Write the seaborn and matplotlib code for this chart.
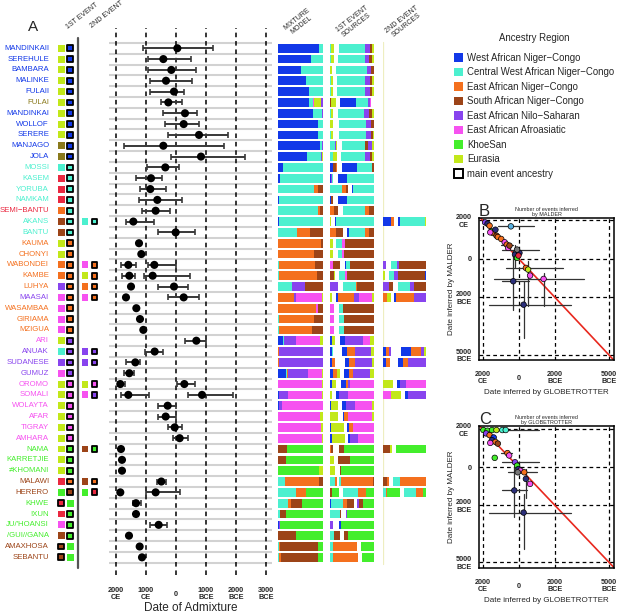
import matplotlib
matplotlib.use("Agg")
import matplotlib.pyplot as plt
from matplotlib.patches import Patch
import numpy as np
import pandas as pd
import seaborn as sns

sns.set_style("white")
plt.rcParams["font.family"] = ["Liberation Sans", "DejaVu Sans"]

# ---- ancestry palette ----
region_codes = ["W", "C", "E", "S", "N", "A", "K", "U"]
region_names = ["West African Niger\u2212Congo", "Central West African Niger\u2212Congo",
                "East African Niger\u2212Congo", "South African Niger\u2212Congo",
                "East African Nilo\u2212Saharan", "East African Afroasiatic", "KhoeSan", "Eurasia"]
region_colors = ["#1238e8", "#4cf0cf", "#f4701e", "#9c4418", "#8844ee", "#f652f0", "#44ee2c", "#c2e81a"]
pal = dict(zip(region_codes, region_colors))
pal.update({"R": "#ea2840", "O": "#8a7a1c", "V": "#2b2f7a", "L": "#58b0e0", "G": "#777777"})

# ---- panel A data ----
populations = ["MANDINKAII", "SEREHULE", "BAMBARA", "MALINKE", "FULAII", "FULAI", "MANDINKAI",
               "WOLLOF", "SERERE", "MANJAGO", "JOLA", "MOSSI", "KASEM", "YORUBA", "NAMKAM",
               "SEMI\u2212BANTU", "AKANS", "BANTU", "KAUMA", "CHONYI", "WABONDEI", "KAMBE", "LUHYA",
               "MAASAI", "WASAMBAA", "GIRIAMA", "MZIGUA", "ARI", "ANUAK", "SUDANESE", "GUMUZ",
               "OROMO", "SOMALI", "WOLAYTA", "AFAR", "TIGRAY", "AMHARA", "NAMA", "KARRETJIE",
               "\u2260KHOMANI", "MALAWI", "HERERO", "KHWE", "!XUN", "JU/'HOANSI", "/GUI//GANA",
               "AMAXHOSA", "SEBANTU"]
pop_codes = ("W W W W W O W W W W W C C C C R C C E E E E E N E E E A N N N "
             "A A A A A A K K K S S K K K K S S").split()

first_event = ["UW"] * 9 + ["OW", "OW", "CC", "RC", "RC", "RC", "EC", "SC", "SC", "UE", "UE",
               "EE", "EE", "NE", "AE", "AE", "AE", "AE", "UN", "CN", "NN", "AN", "UA", "UA",
               "UA", "UA", "UA", "UA", "UK", "UK", "UK", "RE", "KS", "RK", "RK", "AK", "SK",
               "SK", "SK"]
first_main = [1] * 42 + [0, 1, 1, 1, 0, 0]
second_event = {"AKANS": "CC", "WABONDEI": "AE", "KAMBE": "UE", "LUHYA": "EE", "MAASAI": "AE",
                "ANUAK": "NN", "SUDANESE": "NN", "OROMO": "UA", "SOMALI": "AN", "NAMA": "SK",
                "MALAWI": "SE", "HERERO": "KR"}

# admixture dates (positive = BCE), with confidence limits
event_pop = ["MANDINKAII", "SEREHULE", "BAMBARA", "MALINKE", "FULAII", "FULAI", "MANDINKAI",
             "WOLLOF", "SERERE", "MANJAGO", "JOLA", "MOSSI", "KASEM", "YORUBA", "NAMKAM",
             "SEMI\u2212BANTU", "AKANS", "BANTU", "KAUMA", "CHONYI", "WABONDEI", "WABONDEI",
             "KAMBE", "KAMBE", "LUHYA", "LUHYA", "MAASAI", "MAASAI", "WASAMBAA", "GIRIAMA",
             "MZIGUA", "ARI", "ANUAK", "SUDANESE", "GUMUZ", "OROMO", "OROMO", "SOMALI", "SOMALI",
             "WOLAYTA", "AFAR", "TIGRAY", "AMHARA", "NAMA", "KARRETJIE", "\u2260KHOMANI", "MALAWI",
             "HERERO", "HERERO", "KHWE", "!XUN", "JU/'HOANSI", "/GUI//GANA", "AMAXHOSA", "SEBANTU"]
event_date = [45, -422, -156, -333, -67, -256, 300, 256, 767, -422, 833, -356, -833, -856, -622,
              -678, -1422, -11, -1233, -1156, -1589, -722, -1556, -778, -1500, -67, -1667, 256,
              -1322, -1200, -1089, 678, -711, -1356, -1556, -1856, 278, -1589, 867, -278, -344,
              -44, 122, -1833, -1800, -1800, -489, -1856, -678, -1333, -1333, -578, -1567, -1211,
              -1133]
event_lo = [-1090, -922, -922, -878, -878, -500, -422, -356, -256, -1733, -178, -956, -1333, -1189,
            -1222, -1133, -1678, -611, -1233, -1156, -1844, -944, -1789, -1056, -1500, -611, -1667,
            -256, -1322, -1200, -1089, 289, -1044, -1678, -1744, -1944, 44, -1822, 389, -611, -600,
            -256, -100, -1833, -1800, -1800, -633, -1856, -1000, -1422, -1333, -856, -1567, -1211,
            -1180]
event_hi = [1245, 511, 667, 544, 267, 200, 711, 778, 1745, 1600, 2289, 89, -478, -344, 189, -189,
            -722, 622, -1233, -1156, -1333, 0, -1378, 467, -1500, 411, -1667, 767, -1322, -1200,
            -1089, 989, -433, -1211, -1400, -1700, 622, -889, 1911, 0, 0, 189, 389, -1833, -1800,
            -1800, -333, -1856, 122, -1156, -1333, -300, -1567, -1211, -1090]

# stacked composition bars: region code + relative width ("_" = gap)
mixture_model = [
    "W92 C8", "W74 C26", "W50 C50", "W62 C38", "W68 C32", "W69 C8 A4 U15 N4", "W77 C21 N2",
    "W90 C10", "W90 C10", "W93 C5 N2", "W65 C30 N3 U2", "W11 C89", "W4 C96", "C80 E8 S12",
    "W2 C98", "C90 E4 S6", "W2 C98", "C43 E29 S28", "E95 S5", "E81 S19", "C2 E80 S18",
    "C2 E84 S14", "C30 E2 N27 S41", "E36 N3 A58 U3", "E85 A4 S11", "C2 E78 S20", "C3 E72 S25",
    "W11 C2 N28 A53 U6", "E3 N97", "E3 N97", "W17 C2 E4 N44 A30 U3", "A98 U2", "W2 N20 A76 U2",
    "W3 N6 A90 U1", "A93 U7", "A96 U4", "A97 U3", "S19 K81", "S18 K82", "K92 U8", "C15 E77 S8",
    "C41 E21 K38", "C22 E6 S25 K47", "C5 S12 K83", "W3 N2 K95", "S39 K61", "C2 E3 S84 K11",
    "C2 E4 S84 K10"]
first_sources = [
    "C2 U10 _14 C78 N15 S7 U6", "C2 U10 _12 C82 N12 S8 U6", "U6 _12 C94 N12 S8",
    "C2 U8 _12 C82 N15 S7 U6", "C2 U8 _12 C82 N15 S7 U6", "S3 U14 _14 W48 C35 N5 A5 _8",
    "C2 U8 _15 C78 N15 S8 U6", "U8 _18 C83 N15 S8", "C2 U8 _18 C80 N14 S6 U4",
    "C15 N3 U3 _14 C70 S8 N12 U7", "C8 U12 _12 C72 N16 S6 U6", "W9 S10 E3 _13 W47 C45 S5",
    "W4 N2 C3 _14 W27 C82", "C37 E10 S8 _12 W3 C62", "W4 S5 _15 W25 C78",
    "E12 S10 _15 C65 E12 S15", "U3 _12 W4 C112", "E17 S20 _13 W5 C47 E12 S15",
    "U9 _10 C18 A8 S87", "U9 _14 C12 A6 S91", "A10 S20 _14 W3 C14 S71", "S11 U5 _12 C17 A5 S82",
    "N24 _14 C40 E4 S50", "U5 _12 W7 E45 N16 A37 U7", "A13 _14 C12 S91", "A12 _16 C14 S90",
    "A12 _15 C14 S91", "W5 U11 _15 W14 N54 A20 U13", "W7 C3 _25 W15 E25 N47 U10",
    "W6 E8 _31 W11 E18 N53 U5", "W9 E13 U7 _12 W16 E12 N50 U13", "W6 U12 _14 W17 E6 N4 A73",
    "U5 _14 W7 N28 A78", "W3 U21 _13 W12 N25 A53 U5", "U24 _15 W4 E12 A72 U5",
    "W4 U37 _11 W5 E12 A63", "W5 U39 _10 W5 N25 A48", "E4 S5 _17 S15 K91", "U11 _13 S35 K73",
    "U16 _13 S5 K98", "C16 E5 _5 C6 E97 S3", "S5 K22 _12 C43 E23 K25",
    "W4 C35 E13 S19 _11 N5 S12 K33", "C29 S5 _13 N5 K80", "N9 _17 W8 K98",
    "C12 S17 _12 S13 K78", "C9 E72 _13 K38", "C9 E75 _13 K35"]
second_sources = {
    "AKANS": "W8 E3 _4 W2 C25 U1", "WABONDEI": "N3 _5 C6 N2 S27", "KAMBE": "U2 _4 C5 N4 S27 W1",
    "LUHYA": "N6 S4 _5 C12 N4 S12", "MAASAI": "E4 U4 _3 W2 E18 N12",
    "ANUAK": "W3 E3 N2 _10 W10 E10 N3 U2", "SUDANESE": "W3 E4 _8 W5 E4 N18",
    "OROMO": "U10 _4 W3 N6 A20", "SOMALI": "A8 U10 _4 W3 N18", "NAMA": "S7 U2 _4 K30",
    "MALAWI": "S4 E2 _4 C7 E26", "HERERO": "C3 E1 K13 _4 C12 E7 K3"}

year_ticks = [-2000, -1000, 0, 1000, 2000, 3000]
year_labels = ["2000\nCE", "1000\nCE", "0", "1000\nBCE", "2000\nBCE", "3000\nBCE"]

# ---- panels B / C data (GLOBETROTTER vs MALDER dates, positive = BCE) ----
b_glob = [-1867, -1733, -1619, -1524, -1429, -1295, -1238, -1162, -1581, -971, -781, -438, -667,
          -590, -514, -210, -95, 36, -19, 393, 518, 625, 1375, -305, 268, -95]
b_mald = [-1897, -1828, -1724, -1431, -1345, -1517, -1207, -1138, -1379, -1034, -862, -1690, -741,
          -569, -690, -224, -52, -310, -172, 470, 557, 870, 1043, 1165, 2383, -483]
b_col = ["N", "V", "E", "K", "E", "V", "S", "E", "A", "E", "A", "L", "E", "A", "S", "V", "K", "V",
         "R", "E", "U", "A", "A", "V", "V", "G"]
b_glob_err = {11: (-1160, 840), 12: (-1000, -300), 19: (-724, 2446), 22: (-1390, 3607),
              23: (-914, 571), 24: (-1676, 2893), 25: (-914, 1107)}
b_mald_err = {15: (-700, 400), 20: (122, 2470), 22: (730, 2470), 23: (-483, 2643), 24: (1165, 4122)}

c_glob = [-1962, -1733, -1486, -1238, -914, -724, -1810, -1619, -1390, -1486, -1295, -1162, -1581,
          -1333, -629, -533, -210, -95, -19, 89, 304, 393, 625, -248, 268, -57]
c_mald = [-1964, -1929, -1964, -1964, -1964, -1964, -1786, -1696, -1571, -1429, -1339, -1250, -1286,
          -500, -750, -625, -268, -89, 87, 174, 261, 609, 870, 1217, 2383, 261]
c_col = ["K", "K", "K", "U", "C", "C", "N", "E", "W", "V", "E", "S", "A", "K", "E", "A", "N", "K",
         "V", "A", "E", "V", "A", "V", "V", "G"]
c_glob_err = {5: (-1962, 1107), 14: (-1000, -400), 16: (-914, 1107), 23: (-914, 482),
              24: (-1676, 2893), 25: (-600, 1000)}
c_mald_err = {21: (87, 1600), 23: (0, 2600), 24: (1400, 4300)}

pb_ticks = [-2000, 0, 2000, 5000]
pb_labels = ["2000\nCE", "0", "2000\nBCE", "5000\nBCE"]

# ---------------------------------------------------------------------------
W_PX, H_PX = 617, 613
fig = plt.figure(figsize=(6.17, 6.13), dpi=100)


def box(x0, y0, x1, y1):
    return [x0 / W_PX, 1 - y1 / H_PX, (x1 - x0) / W_PX, (y1 - y0) / H_PX]


row_lim = (48.63, -1.87)
n_rows = len(populations)


def parse(s):
    return [(t[0], float(t[1:])) for t in s.split()]


def stacked(ax, row, spec):
    parts = parse(spec)
    total = sum(w for _, w in parts)
    left = 0.0
    for code, w in parts:
        if code != "_":
            ax.barh(row, w / total, left=left, height=0.8, color=pal[code], linewidth=0)
        left += w / total


def bare(ax):
    ax.set_ylim(*row_lim)
    ax.set_xticks([])
    ax.set_yticks([])
    for s in ax.spines.values():
        s.set_visible(False)
    ax.patch.set_alpha(0)


def date_labels(ax, ticks, labels, y, fs):
    for t, l in zip(ticks, labels):
        ax.text(t, y, l, transform=ax.get_xaxis_transform(), ha="center", va="center",
                fontsize=fs, fontweight="bold", linespacing=1.05)


# labels + event squares
ax_lab = fig.add_axes(box(0, 28, 108, 575))
ax_lab.set_xlim(0, 108)
bare(ax_lab)
for i, (name, c) in enumerate(zip(populations, pop_codes)):
    ax_lab.text(49, i, name, ha="right", va="center", fontsize=5.6, color=pal[c])

sq = []
for i, (pair, m) in enumerate(zip(first_event, first_main)):
    for k in range(2):
        sq.append((61.3 + 9 * k, i, pal[pair[k]], k == m))
for name, pair in second_event.items():
    i = populations.index(name)
    for k in range(2):
        sq.append((85 + 9.5 * k, i, pal[pair[k]], k == 1))
sq = pd.DataFrame(sq, columns=["x", "row", "color", "main"])
ax_lab.scatter(sq["x"], sq["row"], marker="s", c=sq["color"],
               s=np.where(sq["main"], 17, 25),
               edgecolors=np.where(sq["main"], "black", "none"),
               linewidths=np.where(sq["main"], 1.3, 0), zorder=3)
ax_lab.axvline(77.5, ymin=0.013, ymax=0.982, color="#555555", lw=1.6)
fig.text(33 / W_PX, 1 - 27 / H_PX, "A", fontsize=11, ha="center", va="center")
fig.text(82 / W_PX, 1 - 16 / H_PX, "1ST EVENT", fontsize=5, rotation=38, ha="center", va="center")
fig.text(107 / W_PX, 1 - 15 / H_PX, "2ND EVENT", fontsize=5, rotation=38, ha="center", va="center")

# dot plot of admixture dates
ax_dot = fig.add_axes(box(109, 28, 272, 575))
ax_dot.set_xlim(-2233, 3200)
ax_dot.hlines(np.arange(-0.5, n_rows), -2233, 3200, color="#d2d2d2", lw=1.5, zorder=1)
for t in year_ticks:
    ax_dot.axvline(t, color="black", ls=(0, (3, 2.5)), lw=1.1, zorder=1)
ev = pd.DataFrame({"pop": event_pop, "date": event_date, "lo": event_lo, "hi": event_hi})
ev["row"] = ev["pop"].map({p: i for i, p in enumerate(populations)})
with_err = ev[ev["hi"] > ev["lo"] + 60]
ax_dot.errorbar(with_err["date"], with_err["row"],
                xerr=[with_err["date"] - with_err["lo"], with_err["hi"] - with_err["date"]],
                fmt="none", ecolor="#383838", elinewidth=1.4, capsize=2, capthick=1.2, zorder=2)
sns.scatterplot(data=ev, x="date", y="row", ax=ax_dot, color="black", s=34, edgecolor="none",
                zorder=3, legend=False)
ax_dot.set_xlabel("")
ax_dot.set_ylabel("")
bare(ax_dot)
date_labels(ax_dot, year_ticks, year_labels, -0.035, 5.3)
ax_dot.text(0.5, -0.061, "Date of Admixture", transform=ax_dot.transAxes, ha="center",
            va="center", fontsize=8.5)

# composition bars
ax_mix = fig.add_axes(box(278, 28, 323, 575))
ax_s1 = fig.add_axes(box(330, 28, 374, 575))
ax_s2 = fig.add_axes(box(383, 28, 426, 575))
for ax in (ax_mix, ax_s1, ax_s2):
    ax.set_xlim(0, 1)
for i, s in enumerate(mixture_model):
    stacked(ax_mix, i, s)
for i, s in enumerate(first_sources):
    stacked(ax_s1, i, s)
for name, s in second_sources.items():
    stacked(ax_s2, populations.index(name), s)
ax_s2.axvline(0, ymin=0.02, ymax=0.975, color="#eeeec0", lw=0.9, zorder=0)
for ax in (ax_mix, ax_s1, ax_s2):
    bare(ax)
for x, y, t in [(299, 22, "MIXTURE\nMODEL"), (354, 22, "1ST EVENT\nSOURCES"),
                (404, 22, "2ND EVENT\nSOURCES")]:
    fig.text(x / W_PX, 1 - y / H_PX, t, fontsize=5, rotation=38, ha="center", va="center",
             ma="center", linespacing=1.0)

# legend
handles = [Patch(facecolor=c, edgecolor="none", label=n) for c, n in zip(region_colors, region_names)]
handles.append(Patch(facecolor="white", edgecolor="black", lw=1.4, label="main event ancestry"))
leg = fig.legend(handles=handles, loc="upper left", bbox_to_anchor=(454 / W_PX, 1 - 33 / H_PX),
                 frameon=False, fontsize=6.9, title="Ancestry Region", title_fontsize=6.9,
                 handlelength=0.95, handleheight=0.95, handletextpad=0.45, labelspacing=0.47,
                 borderpad=0, borderaxespad=0)
leg._legend_box.sep = 7


# panels B and C
def compare_panel(rect, letter, title, gx, my, cols, gerr, merr, ylo, yhi):
    ax = fig.add_axes(rect)
    ax.set_xlim(-2205, 5277)
    ax.set_ylim(yhi, ylo)
    for t in pb_ticks:
        ax.axvline(t, color="black", ls=(0, (3, 2.5)), lw=0.9, zorder=1)
        ax.axhline(t, color="black", ls=(0, (3, 2.5)), lw=0.9, zorder=1)
    ax.plot([-2300, 5400], [-2300, 5400], color="#e8281e", lw=1.2, zorder=2)
    for k, (lo, hi) in gerr.items():
        ax.plot([lo, hi], [my[k], my[k]], color="#333333", lw=0.9, zorder=2)
    for k, (lo, hi) in merr.items():
        ax.plot([gx[k], gx[k]], [lo, hi], color="#333333", lw=0.9, zorder=2)
    df = pd.DataFrame({"g": gx, "m": my, "c": [pal[c] for c in cols]})
    sns.scatterplot(data=df, x="g", y="m", hue="c", palette={v: v for v in df["c"]}, ax=ax,
                    s=16, edgecolor="black", linewidth=0.5, legend=False, zorder=3)
    ax.set_xlabel("")
    ax.set_ylabel("Date inferred by MALDER", fontsize=5.8, labelpad=1)
    ax.set_xticks([])
    ax.set_yticks(pb_ticks)
    ax.set_yticklabels(pb_labels, fontsize=5.2, fontweight="bold", ma="center", linespacing=1.05)
    ax.tick_params(axis="y", length=0, pad=5)
    for s in ax.spines.values():
        s.set_visible(True)
        s.set_color("black")
        s.set_linewidth(1.1)
    date_labels(ax, pb_ticks, pb_labels, -0.129, 5.2)
    ax.text(0.5, -0.232, "Date inferred by GLOBETROTTER", transform=ax.transAxes, ha="center",
            va="center", fontsize=5.8)
    ax.set_title(title, fontsize=3.9, pad=1.5, linespacing=1.1)
    ax.text(0.0, 0.995, letter, transform=ax.transAxes, fontsize=12, ha="left", va="bottom")
    return ax


compare_panel(box(479, 218, 614, 360), "B", "Number of events inferred\nby MALDER",
              b_glob, b_mald, b_col, b_glob_err, b_mald_err, -2125, 5260)
compare_panel(box(479, 426, 614, 568), "C", "Number of events inferred\nby GLOBETROTTER",
              c_glob, c_mald, c_col, c_glob_err, c_mald_err, -2176, 5300)

fig.savefig("out.png", dpi=100, facecolor="white")
